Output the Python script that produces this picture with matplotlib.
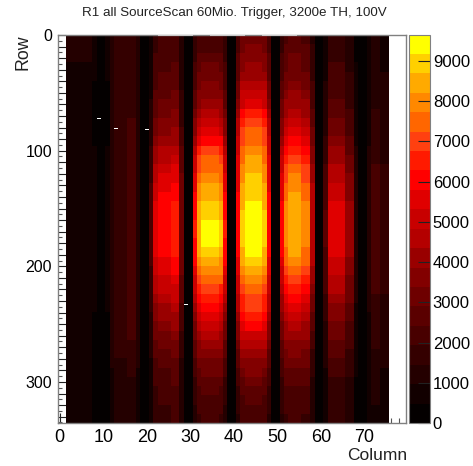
import numpy as np
import matplotlib
matplotlib.use('Agg')
import matplotlib.pyplot as plt
from matplotlib.colors import ListedColormap, BoundaryNorm

plt.rcParams['font.family'] = ['Liberation Sans', 'DejaVu Sans']

# column groups (edges in column units), rows are read in bands of 8
col_edges = [1.5,7.5,8.5,10.5,11.5, 12.5,15.5,17.5,18.5,20.5, 21.5,22.5,25.5,27.5,28.5,30.5,
             31.5,32.5,36.5,37.5,38.5,40.5, 41.5,42.5,46.5,47.5,48.5,50.5,
             51.5,52.5,55.5,57.5,58.5,60.5, 61.5,62.5,65.5,67.5,68.5,70.5, 71.5,73.5,75.5]
row_edges = np.arange(-0.5, 336, 8)

row_004 = [1100,600,150,600, 1050,1500,1800,1050,200, 680,1750,1950,2100,1070,150, 1500,2050,2200,2100,1500,150, 2150,3050,3300,3050,2150,150, 1750,2300,2500,2300,1380,150, 730,1650,1650,1190,410,150, 660,1200,900]
row_012 = [1050,580,150,580, 1050,1500,1800,1050,200, 720,1850,2050,2210,1130,150, 1630,2230,2400,2280,1630,150, 2280,3260,3500,3260,2280,150, 1890,2510,2700,2510,1490,150, 770,1750,1750,1260,440,150, 660,1200,900]
row_020 = [1000,550,150,550, 1050,1500,1800,1050,200, 770,1980,2200,2380,1210,150, 1800,2460,2650,2520,1800,150, 2440,3490,3750,3490,2440,150, 2030,2700,2900,2700,1600,150, 810,1850,1850,1330,460,150, 660,1200,900]
row_028 = [950,520,150,520, 1050,1500,1800,1050,200, 800,2070,2300,2480,1270,150, 1970,2700,2900,2760,1970,150, 2600,3720,4000,3720,2600,150, 2170,2880,3100,2880,1700,150, 860,1950,1950,1400,490,150, 690,1250,940]
row_036 = [900,500,150,500, 1050,1500,1800,1050,200, 860,2200,2450,2650,1350,150, 2140,2930,3150,2990,2140,150, 2800,4000,4300,4000,2800,150, 2350,3120,3350,3120,1840,150, 900,2050,2050,1480,510,150, 720,1300,980]
row_044 = [880,480,150,480, 1050,1500,1800,1050,200, 910,2340,2600,2810,1430,150, 2350,3210,3450,3280,2350,150, 3060,4370,4700,4370,3060,150, 2520,3350,3600,3350,1980,150, 970,2200,2200,1580,550,150, 720,1300,980]
row_052 = [850,470,150,470, 1050,1500,1800,1050,200, 960,2480,2750,2970,1510,150, 2550,3490,3750,3560,2550,150, 3380,4840,5200,4840,3380,150, 2730,3630,3900,3630,2150,150, 1030,2350,2350,1690,590,150, 740,1350,1010]
row_060 = [850,470,150,470, 1090,1550,1860,1090,200, 1030,2660,2950,3190,1620,150, 2790,3810,4100,3900,2790,150, 3700,5300,5700,5300,3700,150, 2940,3910,4200,3910,2310,150, 1120,2550,2550,1840,640,150, 770,1400,1050]
row_068 = [850,470,150,470, 1120,1600,1920,1120,200, 1100,2840,3150,3400,1730,150, 3060,4190,4500,4280,3060,150, 4100,5860,6300,5860,4100,150, 3220,4280,4600,4280,2530,150, 1210,2750,2750,1980,690,150, 800,1450,1090]
row_076 = [850,470,150,470, 1160,1650,1980,1160,200, 1190,3060,3400,3670,1870,150, 3400,4650,5000,4750,3400,150, 4490,6420,6900,6420,4490,150, 3500,4650,5000,4650,2750,150, 1320,3000,3000,2160,750,150, 830,1500,1130]
row_084 = [850,470,150,470, 1190,1700,2040,1190,200, 1300,3330,3700,4000,2040,150, 3770,5160,5550,5270,3770,150, 4750,6790,7300,6790,4750,150, 3780,5020,5400,5020,2970,150, 1430,3250,3250,2340,810,150, 880,1600,1200]
row_092 = [870,480,150,480, 1260,1800,2160,1260,200, 1400,3600,4000,4320,2200,150, 4180,5720,6150,5840,4180,150, 5000,7160,7700,7160,5000,150, 4130,5490,5900,5490,3250,150, 1560,3550,3550,2560,890,150, 940,1700,1280]
row_100 = [900,500,150,500, 1300,1850,2220,1300,200, 1540,3960,4400,4750,2420,150, 4620,6320,6800,6460,4620,150, 5200,7440,8000,7440,5200,150, 4550,6050,6500,6050,3580,150, 1720,3900,3900,2810,980,150, 990,1800,1350]
row_108 = [900,500,150,500, 1330,1900,2280,1330,200, 1660,4280,4750,5130,2610,150, 4960,6790,7300,6940,4960,150, 5360,7670,8250,7670,5360,150, 4900,6510,7000,6510,3850,150, 1850,4200,4200,3020,1050,150, 1050,1900,1430]
row_116 = [900,500,150,500, 1330,1900,2280,1330,200, 1770,4550,5050,5450,2780,150, 5240,7160,7700,7320,5240,150, 5530,7910,8500,7910,5530,150, 5180,6880,7400,6880,4070,150, 1980,4500,4500,3240,1130,150, 1070,1950,1460]
row_124 = [920,510,150,510, 1330,1900,2280,1330,200, 1870,4820,5350,5780,2940,150, 5470,7490,8050,7650,5470,150, 5660,8090,8700,8090,5660,150, 5430,7210,7750,7210,4260,150, 2090,4750,4750,3420,1190,150, 1100,2000,1500]
row_132 = [950,520,150,520, 1330,1900,2280,1330,200, 1960,5040,5600,6050,3080,150, 5680,7770,8350,7930,5680,150, 5790,8280,8900,8280,5790,150, 5600,7440,8000,7440,4400,150, 2200,5000,5000,3600,1250,150, 1130,2050,1540]
row_140 = [950,520,150,520, 1330,1900,2280,1330,200, 2030,5220,5800,6260,3190,150, 5850,8000,8600,8170,5850,150, 5920,8460,9100,8460,5920,150, 5780,7670,8250,7670,4540,150, 2290,5200,5200,3740,1300,150, 1160,2100,1580]
row_148 = [950,520,150,520, 1330,1900,2280,1330,200, 2080,5360,5950,6430,3270,150, 6020,8230,8850,8410,6020,150, 6010,8600,9250,8600,6010,150, 5880,7810,8400,7810,4620,150, 2380,5400,5400,3890,1350,150, 1180,2150,1610]
row_156 = [950,520,150,520, 1330,1900,2280,1330,200, 2120,5450,6050,6530,3330,150, 6190,8460,9100,8650,6190,150, 6110,8740,9400,8740,6110,150, 5990,7950,8550,7950,4700,150, 2440,5550,5550,4000,1390,150, 1210,2200,1650]
row_164 = [950,520,150,520, 1330,1900,2280,1330,200, 2140,5500,6100,6590,3360,150, 6290,8600,9250,8790,6290,150, 6180,8840,9500,8840,6180,150, 6060,8040,8650,8040,4760,150, 2490,5650,5650,4070,1410,150, 1210,2200,1650]
row_172 = [950,520,150,520, 1330,1900,2280,1330,200, 2140,5500,6100,6590,3360,150, 6320,8650,9300,8840,6320,150, 6180,8840,9500,8840,6180,150, 6060,8040,8650,8040,4760,150, 2490,5650,5650,4070,1410,150, 1210,2200,1650]
row_180 = [950,520,150,520, 1330,1900,2280,1330,200, 2120,5450,6050,6530,3330,150, 6260,8560,9200,8740,6260,150, 6080,8700,9350,8700,6080,150, 5950,7910,8500,7910,4680,150, 2440,5550,5550,4000,1390,150, 1210,2200,1650]
row_188 = [950,520,150,520, 1330,1900,2280,1330,200, 2080,5360,5950,6430,3270,150, 6120,8370,9000,8550,6120,150, 5980,8560,9200,8560,5980,150, 5810,7720,8300,7720,4570,150, 2380,5400,5400,3890,1350,150, 1210,2200,1650]
row_196 = [950,520,150,520, 1330,1900,2280,1330,200, 2010,5180,5750,6210,3160,150, 5850,8000,8600,8170,5850,150, 5750,8230,8850,8230,5750,150, 5570,7390,7950,7390,4370,150, 2270,5150,5150,3710,1290,150, 1180,2150,1610]
row_204 = [950,520,150,520, 1330,1900,2280,1330,200, 1930,4950,5500,5940,3030,150, 5540,7580,8150,7740,5540,150, 5490,7860,8450,7860,5490,150, 5290,7020,7550,7020,4150,150, 2160,4900,4900,3530,1230,150, 1160,2100,1580]
row_212 = [920,510,150,510, 1330,1900,2280,1330,200, 1820,4680,5200,5620,2860,150, 5200,7110,7650,7270,5200,150, 5230,7490,8050,7490,5230,150, 4970,6600,7100,6600,3910,150, 2050,4650,4650,3350,1160,150, 1130,2050,1540]
row_220 = [900,500,150,500, 1330,1900,2280,1330,200, 1720,4410,4900,5290,2700,150, 4830,6600,7100,6750,4830,150, 5010,7160,7700,7160,5010,150, 4620,6140,6600,6140,3630,150, 1940,4400,4400,3170,1100,150, 1100,2000,1500]
row_228 = [900,500,150,500, 1300,1850,2220,1300,200, 1590,4100,4550,4910,2500,150, 4450,6090,6550,6220,4450,150, 4680,6700,7200,6700,4680,150, 4270,5670,6100,5670,3360,150, 1800,4100,4100,2950,1030,150, 1050,1900,1430]
row_236 = [900,500,150,500, 1260,1800,2160,1260,200, 1490,3830,4250,4590,2340,150, 4080,5580,6000,5700,4080,150, 4420,6320,6800,6320,4420,150, 3920,5210,5600,5210,3080,150, 1670,3800,3800,2740,950,150, 990,1800,1350]
row_244 = [870,480,150,480, 1230,1750,2100,1230,200, 1370,3510,3900,4210,2150,150, 3710,5070,5450,5180,3710,150, 4100,5860,6300,5860,4100,150, 3570,4740,5100,4740,2810,150, 1540,3500,3500,2520,880,150, 940,1700,1280]
row_252 = [850,470,150,470, 1190,1700,2040,1190,200, 1260,3240,3600,3890,1980,150, 3370,4600,4950,4700,3370,150, 3770,5390,5800,5390,3770,150, 3260,4320,4650,4320,2560,150, 1410,3200,3200,2300,800,150, 880,1600,1200]
row_260 = [820,450,150,450, 1160,1650,1980,1160,200, 1160,2970,3300,3560,1820,150, 3060,4190,4500,4280,3060,150, 3450,4930,5300,4930,3450,150, 2940,3910,4200,3910,2310,150, 1300,2950,2950,2120,740,150, 850,1550,1160]
row_268 = [800,440,150,440, 1120,1600,1920,1120,200, 1070,2750,3050,3290,1680,150, 2790,3810,4100,3900,2790,150, 3120,4460,4800,4460,3120,150, 2660,3530,3800,3530,2090,150, 1190,2700,2700,1940,680,150, 830,1500,1130]
row_276 = [780,430,150,430, 1050,1500,1800,1050,200, 980,2520,2800,3020,1540,150, 2520,3440,3700,3520,2520,150, 2800,4000,4300,4000,2800,150, 2420,3210,3450,3210,1900,150, 1080,2450,2450,1760,610,150, 770,1400,1050]
row_284 = [750,410,150,410, 980,1400,1680,980,200, 910,2340,2600,2810,1430,150, 2280,3120,3350,3180,2280,150, 2470,3530,3800,3530,2470,150, 2210,2930,3150,2930,1730,150, 990,2250,2250,1620,560,150, 720,1300,980]
row_292 = [700,390,150,390, 910,1300,1560,910,200, 840,2160,2400,2590,1320,150, 2070,2840,3050,2900,2070,150, 2210,3160,3400,3160,2210,150, 2000,2650,2850,2650,1570,150, 900,2050,2050,1480,510,150, 660,1200,900]
row_300 = [650,360,150,360, 840,1200,1440,840,200, 790,2030,2250,2430,1240,150, 1870,2560,2750,2610,1870,150, 2020,2880,3100,2880,2020,150, 1820,2420,2600,2420,1430,150, 840,1900,1900,1370,480,150, 610,1100,830]
row_308 = [620,340,150,340, 810,1150,1380,810,200, 740,1890,2100,2270,1160,150, 1700,2330,2500,2380,1700,150, 1820,2600,2800,2600,1820,150, 1680,2230,2400,2230,1320,150, 770,1750,1750,1260,440,150, 580,1050,790]
row_316 = [600,330,150,330, 770,1100,1320,770,200, 700,1800,2000,2160,1100,150, 1560,2140,2300,2190,1560,150, 1660,2370,2550,2370,1660,150, 1580,2090,2250,2090,1240,150, 730,1650,1650,1190,410,150, 550,1000,750]
row_324 = [600,330,150,330, 740,1050,1260,740,200, 670,1710,1900,2050,1050,150, 1430,1950,2100,2000,1430,150, 1500,2140,2300,2140,1500,150, 1470,1950,2100,1950,1160,150, 680,1550,1550,1120,390,150, 520,950,710]
row_332 = [580,320,150,320, 700,1000,1200,700,200, 630,1620,1800,1940,990,150, 1330,1810,1950,1850,1330,150, 1370,1950,2100,1950,1370,150, 1370,1810,1950,1810,1070,150, 640,1450,1450,1040,360,150, 500,900,680]

# pixels with no hits, these show up white
empty_cols = [9,13,20,29]
empty_rows = [72,81,82,233]
empty_top_cols = [23,24,25,26,27,28,29,30, 35,36,37,38,39,40,41,42, 47,48,49,50,51,52,53,54]

band_colors = ['#040000','#120000','#240000','#340000','#480000','#5a0000','#6e0000','#820000','#990000','#b40000',
               '#c80000','#e00000','#ff0000','#ff1a00','#ff4010','#ff6600','#ff8800','#ffaa00','#ffd000','#ffff00']
z_max = 9660

hits = np.array([row_004,row_012,row_020,row_028,row_036,row_044,row_052,row_060,row_068,row_076,row_084,row_092,
                 row_100,row_108,row_116,row_124,row_132,row_140,row_148,row_156,row_164,row_172,row_180,row_188,
                 row_196,row_204,row_212,row_220,row_228,row_236,row_244,row_252,row_260,row_268,row_276,row_284,
                 row_292,row_300,row_308,row_316,row_324,row_332])

W, H = 473, 466
fig = plt.figure(figsize=(W/100, H/100), dpi=100)
ax = fig.add_axes([57.5/W, 1-423/H, 348.5/W, 388.5/H])
cax = fig.add_axes([409/W, 1-423/H, 21/W, 388.5/H])

cmap = ListedColormap(band_colors)
norm = BoundaryNorm(np.linspace(0, z_max, len(band_colors)+1), len(band_colors))
mesh = ax.pcolormesh(col_edges, row_edges, hits, cmap=cmap, norm=norm, zorder=2)
ax.barh(empty_rows, [1]*len(empty_cols), left=np.array(empty_cols)-0.5, height=1, color='white', zorder=3)
ax.barh([0]*len(empty_top_cols), [1]*len(empty_top_cols), left=np.array(empty_top_cols)-0.5, height=1.2, color='#c8c8c8', zorder=3)

ax.set_xlim(-0.5, 79.5)
ax.set_ylim(335.5, -0.5)
ax.set_axisbelow(True)

ax.set_xticks(np.arange(0, 80, 10))
ax.set_xticks(np.arange(0, 80, 2), minor=True)
ax.set_yticks(np.arange(0, 336, 10))
ax.set_yticklabels([str(v) if v % 100 == 0 else '' for v in np.arange(0, 336, 10)])
ax.set_yticks(np.arange(0, 336, 5), minor=True)
ax.tick_params(axis='x', which='major', direction='in', length=7, width=0.8, labelsize=13, pad=4, top=False, color='#222222')
ax.tick_params(axis='x', which='minor', direction='in', length=3.5, width=0.8, top=False, color='#555555')
ax.tick_params(axis='y', which='major', direction='in', length=6, width=0.8, labelsize=11.5, pad=4, right=False, color='#222222')
ax.tick_params(axis='y', which='minor', direction='in', length=3, width=0.8, right=False, color='#555555')
for s in ax.spines.values():
    s.set_color('#808080')
    s.set_linewidth(1)

cb = fig.colorbar(mesh, cax=cax, spacing='proportional', drawedges=False)
cb.set_ticks(np.arange(0, 10000, 1000))
cb.ax.tick_params(which='major', direction='in', length=8.5, width=0.8, labelsize=12, pad=2, color='#222222')
cb.ax.minorticks_off()
cb.outline.set_edgecolor('#808080')
cb.outline.set_linewidth(0.8)

fig.text(234/W, 1-13/H, 'R1 all SourceScan 60Mio. Trigger, 3200e TH, 100V', ha='center', va='center', fontsize=9.6, color='#222222')
fig.text(23/W, 1-52/H, 'Row', rotation=90, ha='center', va='center', fontsize=12.8, color='#222222')
fig.text(407/W, 1-455/H, 'Column', ha='right', va='center', fontsize=12.5, color='#222222')

fig.savefig('out.png', dpi=100)
